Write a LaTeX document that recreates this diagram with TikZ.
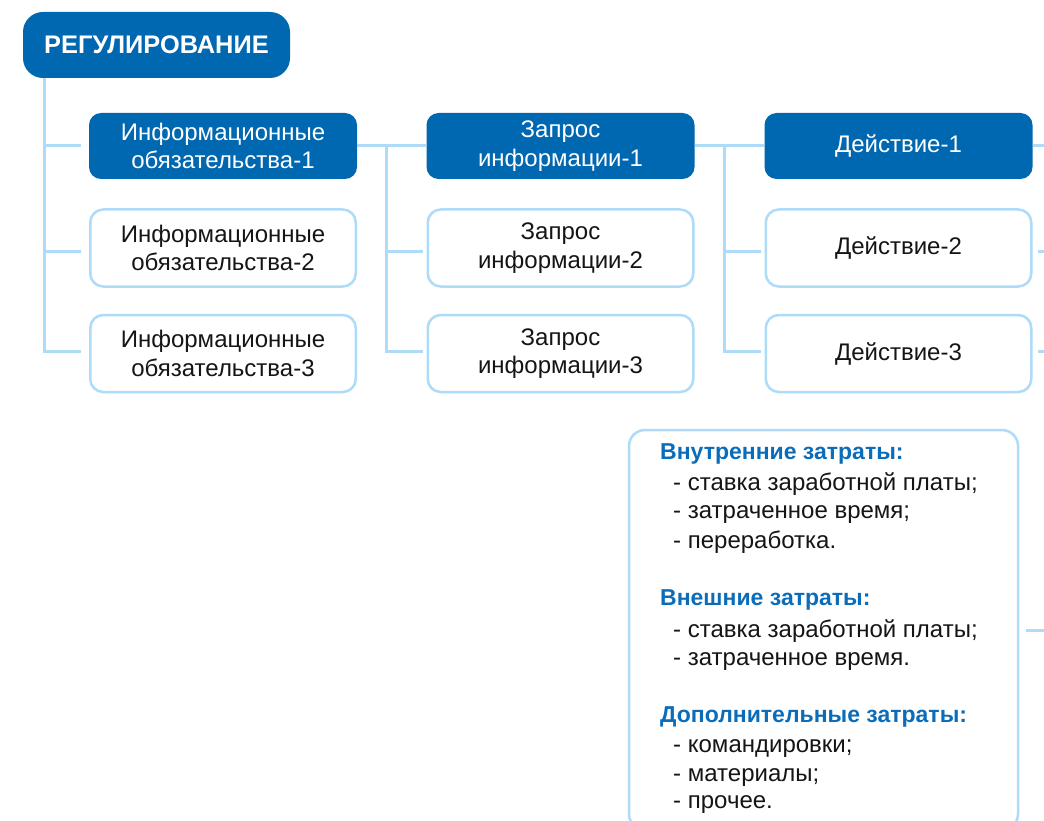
\documentclass[tikz,border=0pt]{standalone}
\usepackage{fontspec}
\setmainfont{Liberation Sans}
\usetikzlibrary{calc}
\definecolor{dblue}{HTML}{0067B1}
\definecolor{lblue}{HTML}{AEDBF8}
\definecolor{hblue}{HTML}{0B6DBA}
\definecolor{txt}{HTML}{151515}
\begin{document}
\begin{tikzpicture}[x=1pt,y=-1pt,
  conn/.style={draw=lblue,line width=3pt},
  boxfont/.style={font=\fontsize{24}{28.5}\selectfont},
  fillbox/.style={rectangle,rounded corners=12pt,fill=dblue,text=white,
    minimum width=268pt,minimum height=66pt,align=center,inner sep=0pt,boxfont},
  linebox/.style={rectangle,rounded corners=13pt,draw=lblue,line width=2.5pt,fill=white,
    text=txt,minimum width=265.5pt,minimum height=77pt,align=center,inner sep=0pt,boxfont},
  rootbox/.style={rectangle,rounded corners=20pt,fill=dblue,text=white,
    minimum width=267pt,minimum height=66pt,inner sep=0pt,
    font=\fontsize{25.4}{28}\selectfont\bfseries},
  costbox/.style={rectangle,rounded corners=16pt,draw=lblue,line width=2.5pt,fill=white,
    minimum width=389pt,minimum height=400pt,inner sep=0pt},
  head/.style={anchor=base west,inner sep=0pt,text=hblue,font=\fontsize{23}{28}\selectfont\bfseries},
  item/.style={anchor=base west,inner sep=0pt,text=txt,font=\fontsize{24}{28}\selectfont},
]
\useasboundingbox (0,0) rectangle (1044,821);
\fill[white] (0,0) rectangle (1044,821);

% root
\node[rootbox] (r) at (156.5,45) {РЕГУЛИРОВАНИЕ};

% column 1
\node[fillbox] (a1) at (223,146) {Информационные\\обязательства-1};
\node[linebox] (a2) at (223,248) {Информационные\\обязательства-2};
\node[linebox] (a3) at (223,353.5) {Информационные\\обязательства-3};
% column 2
\node[fillbox] (b1) at (560.5,146) {Запрос\\информации-1};
\node[linebox] (b2) at (560.5,248) {Запрос\\информации-2};
\node[linebox] (b3) at (560.5,353.5) {Запрос\\информации-3};
% column 3
\node[fillbox] (c1) at (898.5,146) {Действие-1};
\node[linebox] (c2) at (898.5,248) {Действие-2};
\node[linebox] (c3) at (898.5,353.5) {Действие-3};

% cost box
\node[costbox] (d) at (823.5,630) {};
\node[head] (h1) at (660,459) {Внутренние затраты:};
\node[item] (i11) at (673,490) {- ставка заработной платы;};
\node[item] (i12) at (673,518) {- затраченное время;};
\node[item] (i13) at (673,548) {- переработка.};
\node[head] (h2) at (660,605) {Внешние затраты:};
\node[item] (i21) at (673,637) {- ставка заработной платы;};
\node[item] (i22) at (673,665) {- затраченное время.};
\node[head] (h3) at (660,722) {Дополнительные затраты:};
\node[item] (i31) at (673,752) {- командировки;};
\node[item] (i32) at (673,781) {- материалы;};
\node[item] (i33) at (673,808) {- прочее.};

% connectors: root to column 1
\coordinate (t0) at (44,78);
\coordinate (ta1) at (81,146);
\coordinate (ta2) at (81,251);
\coordinate (ta3) at (81,351);
\draw[conn] (t0) |- (ta3);
\draw[conn] (t0 |- ta1) -- (ta1);
\draw[conn] (t0 |- ta2) -- (ta2);
% column 1 to column 2
\coordinate (v1) at (386,146);
\coordinate (tb2) at (423,251);
\coordinate (tb3) at (423,351);
\draw[conn] (a1.east) -- (b1.west);
\draw[conn] (v1) |- (tb3);
\draw[conn] (v1 |- tb2) -- (tb2);
% column 2 to column 3
\coordinate (v2) at (724,146);
\coordinate (tc2) at (761,251);
\coordinate (tc3) at (761,351);
\draw[conn] (b1.east) -- (c1.west);
\draw[conn] (v2) |- (tc3);
\draw[conn] (v2 |- tc2) -- (tc2);
% right stubs
\coordinate (e1) at (1044,146);
\coordinate (s2a) at (1038,251);
\coordinate (s2b) at (1044,251);
\coordinate (s3a) at (1038,351);
\coordinate (s3b) at (1044,351);
\coordinate (s4a) at (1026,630);
\coordinate (s4b) at (1044,630);
\draw[conn] (c1.east) -- (e1);
\draw[conn] (s2a) -- (s2b);
\draw[conn] (s3a) -- (s3b);
\draw[conn] (s4a) -- (s4b);
\end{tikzpicture}
\end{document}
